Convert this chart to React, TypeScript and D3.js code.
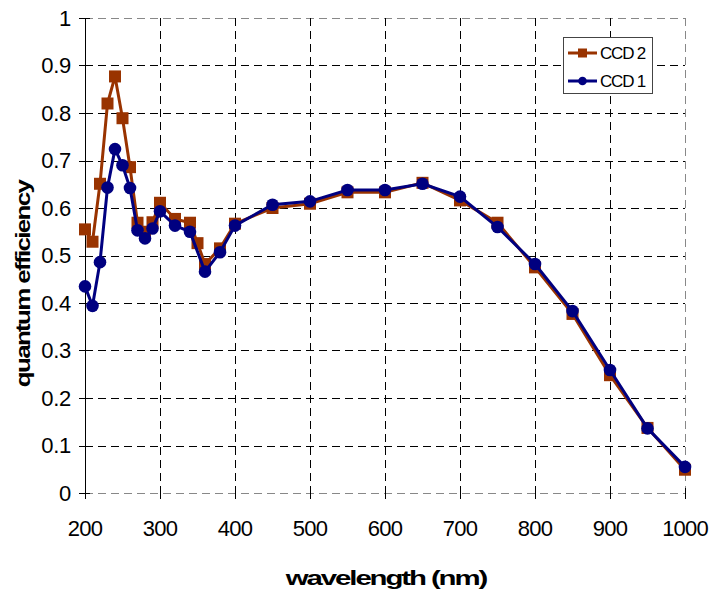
import React from "react";
import * as d3 from "d3";

const wavelengthsCCD2 = [200, 210, 220, 230, 240, 250, 260, 270, 280, 290, 300, 320, 340, 350, 360, 380, 400, 450, 500, 550, 600, 650, 700, 750, 800, 850, 900, 950, 1000];
const qeCCD2 = [0.555, 0.529, 0.651, 0.82, 0.877, 0.789, 0.686, 0.569, 0.55, 0.57, 0.611, 0.577, 0.569, 0.526, 0.482, 0.515, 0.567, 0.6, 0.609, 0.633, 0.633, 0.653, 0.616, 0.569, 0.475, 0.377, 0.248, 0.137, 0.049];

const wavelengthsCCD1 = [200, 210, 220, 230, 240, 250, 260, 270, 280, 290, 300, 320, 340, 360, 380, 400, 450, 500, 550, 600, 650, 700, 750, 800, 850, 900, 950, 1000];
const qeCCD1 = [0.435, 0.394, 0.486, 0.643, 0.724, 0.69, 0.642, 0.553, 0.536, 0.557, 0.593, 0.563, 0.55, 0.466, 0.507, 0.563, 0.607, 0.614, 0.638, 0.638, 0.651, 0.624, 0.56, 0.482, 0.383, 0.259, 0.136, 0.055];

const xTicks = [200, 300, 400, 500, 600, 700, 800, 900, 1000];
const yTicks = [0, 0.1, 0.2, 0.3, 0.4, 0.5, 0.6, 0.7, 0.8, 0.9, 1];

const seriesNames = ["CCD 2", "CCD 1"];
const colorCCD2 = "#993300";
const colorCCD1 = "#000080";

export default function App() {
  const left = 85, right = 685, top = 18, bottom = 493;
  const x = d3.scaleLinear().domain([200, 1000]).range([left, right]);
  const y = d3.scaleLinear().domain([0, 1]).range([bottom, top]);
  const line = d3.line<[number, number]>().x((d) => x(d[0])).y((d) => y(d[1]));
  const d2: [number, number][] = wavelengthsCCD2.map((w, i) => [w, qeCCD2[i]]);
  const d1: [number, number][] = wavelengthsCCD1.map((w, i) => [w, qeCCD1[i]]);
  const font = "Arial, 'Liberation Sans', sans-serif";
  const sq = 12;
  const px = (v: number) => Math.round(v) + 0.5;

  return (
    <svg width={711} height={594} style={{ position: "absolute", left: 0, top: 0 }} fontFamily={font}>
      <rect width={711} height={594} fill="#fff" />
      {/* grid */}
      {yTicks.map((t) => (
        <line key={"gy" + t} x1={left} x2={right} y1={px(y(t))} y2={px(y(t))} stroke={t === 1 || t === 0 ? "#888" : "#000"} strokeWidth={1} strokeDasharray="8,5" />
      ))}
      {xTicks.slice(1).map((t) => (
        <line key={"gx" + t} x1={px(x(t))} x2={px(x(t))} y1={top} y2={bottom} stroke={t === 1000 ? "#888" : "#000"} strokeWidth={1} strokeDasharray="8,5" />
      ))}
      {/* axes */}
      <line x1={px(left)} x2={px(left)} y1={top} y2={bottom + 6} stroke="#000" strokeWidth={1} />
      {yTicks.map((t) => (
        <line key={"ty" + t} x1={left - 6} x2={left + 5} y1={px(y(t))} y2={px(y(t))} stroke="#000" />
      ))}
      {xTicks.map((t) => (
        <line key={"tx" + t} x1={px(x(t))} x2={px(x(t))} y1={bottom - 5} y2={bottom + 6} stroke="#000" />
      ))}
      {yTicks.map((t) => (
        <text key={"ly" + t} x={71} y={y(t)} dy="0.36em" textAnchor="end" fontSize={22} letterSpacing={-0.3}>
          {d3.format("")(+t.toFixed(1))}
        </text>
      ))}
      {xTicks.map((t) => (
        <text key={"lx" + t} x={x(t)} y={536} textAnchor="middle" fontSize={22} letterSpacing={-0.8}>
          {t}
        </text>
      ))}
      <text transform="translate(386,585) scale(1.4,1)" textAnchor="middle" fontSize={21} fontWeight="bold" letterSpacing={-1.5}>
        wavelength (nm)
      </text>
      <text transform="translate(29.5,284) rotate(-90) scale(1.3,1)" textAnchor="middle" fontSize={20} fontWeight="bold" letterSpacing={-1.3}>
        quantum efficiency
      </text>
      {/* CCD2 */}
      <path d={line(d2) || ""} fill="none" stroke={colorCCD2} strokeWidth={3} />
      {d2.map((d, i) => (
        <rect key={"s" + i} x={x(d[0]) - sq / 2} y={y(d[1]) - sq / 2} width={sq} height={sq} fill={colorCCD2} />
      ))}
      {/* CCD1 */}
      <path d={line(d1) || ""} fill="none" stroke={colorCCD1} strokeWidth={3} />
      {d1.map((d, i) => (
        <circle key={"c" + i} cx={x(d[0])} cy={y(d[1])} r={6.3} fill={colorCCD1} />
      ))}
      {/* legend */}
      <rect x={563.5} y={37.5} width={89} height={56} fill="#fff" stroke="#444" strokeWidth={1} />
      <line x1={568} x2={597} y1={53} y2={53} stroke={colorCCD2} strokeWidth={3} />
      <rect x={578} y={48.5} width={9} height={9} fill={colorCCD2} />
      <text x={600} y={53} dy="0.36em" fontSize={17} letterSpacing={-1.2}>{seriesNames[0]}</text>
      <line x1={568} x2={597} y1={81} y2={81} stroke={colorCCD1} strokeWidth={3} />
      <circle cx={582.5} cy={81} r={4.3} fill={colorCCD1} />
      <text x={600} y={81} dy="0.36em" fontSize={17} letterSpacing={-1.2}>{seriesNames[1]}</text>
    </svg>
  );
}
